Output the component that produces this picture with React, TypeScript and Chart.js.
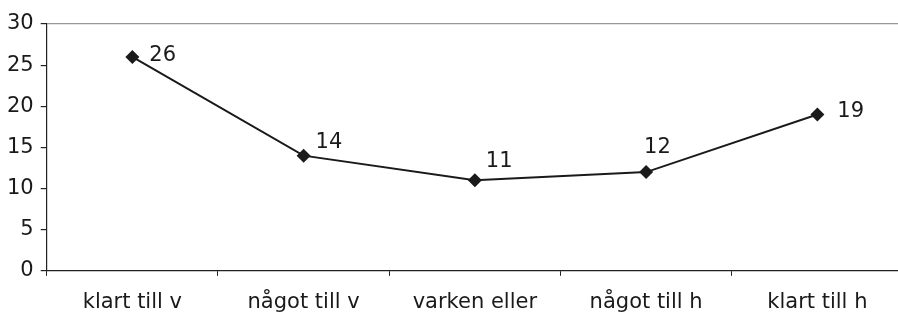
import React, { useEffect, useRef } from "react";
import { Chart, registerables } from "chart.js";

Chart.register(...registerables);

const categories = ["klart till v", "något till v", "varken eller", "något till h", "klart till h"];
const values = [26, 14, 11, 12, 19];
const yTicks = [0, 5, 10, 15, 20, 25, 30];

// label offsets relative to each point (styling of the value labels)
const labelDx = [17, 12, 11, -2, 20];
const labelDy = [-1, -13, -19, -25, -3];

const FONT = "'DejaVu Sans', sans-serif";
const FS = 21;

export default function App() {
  const ref = useRef<HTMLCanvasElement | null>(null);

  useEffect(() => {
    document.body.style.margin = "0";
    const canvas = ref.current!;
    const valueLabels = {
      id: "valueLabels",
      afterDatasetsDraw(chart: any) {
        const ctx = chart.ctx;
        const meta = chart.getDatasetMeta(0);
        ctx.save();
        ctx.font = `${FS}px ${FONT}`;
        ctx.fillStyle = "#1a1a1a";
        ctx.textAlign = "left";
        ctx.textBaseline = "middle";
        meta.data.forEach((pt: any, i: number) => {
          ctx.fillText(String(values[i]), pt.x + labelDx[i], pt.y + labelDy[i]);
        });
        ctx.restore();
      },
    };
    const chart = new Chart(canvas, {
      type: "line",
      data: {
        labels: categories,
        datasets: [
          {
            data: values,
            borderColor: "#1a1a1a",
            borderWidth: 2,
            pointStyle: "rectRot",
            pointRadius: 7,
            pointBackgroundColor: "#1a1a1a",
            pointBorderColor: "#1a1a1a",
            pointBorderWidth: 0,
            tension: 0,
          },
        ],
      },
      options: {
        responsive: false,
        animation: false,
        layout: { padding: { top: 24, left: 0, right: 0, bottom: -17 } },
        plugins: { legend: { display: false }, tooltip: { enabled: false } },
        scales: {
          x: {
            type: "category",
            offset: true,
            border: { display: true, color: "#222", width: 1.2 },
            grid: {
              offset: true,
              display: true,
              drawOnChartArea: false,
              drawTicks: true,
              tickLength: 5,
              tickColor: "#222",
              color: "transparent",
            },
            ticks: {
              font: { family: FONT, size: FS },
              color: "#1a1a1a",
              padding: 14,
              maxRotation: 0,
              autoSkip: false,
            },
          },
          y: {
            min: 0,
            max: 30,
            afterBuildTicks: (axis: any) => {
              axis.ticks = yTicks.map((v) => ({ value: v }));
            },
            border: { display: true, color: "#222", width: 1.2 },
            grid: {
              display: true,
              drawOnChartArea: true,
              drawTicks: true,
              tickLength: 6,
              tickColor: "#222",
              color: (c: any) => (c.tick && c.tick.value === 30 ? "#999" : "transparent"),
              lineWidth: 1.2,
            },
            ticks: {
              font: { family: FONT, size: FS },
              color: "#1a1a1a",
              padding: 7,
            },
          },
        },
      },
      plugins: [valueLabels],
    });
    return () => chart.destroy();
  }, []);

  return (
    <div style={{ width: 898, height: 312, overflow: "hidden", background: "#fff" }}>
      <canvas ref={ref} width={910} height={312} style={{ width: 910, height: 312, display: "block" }} />
    </div>
  );
}
